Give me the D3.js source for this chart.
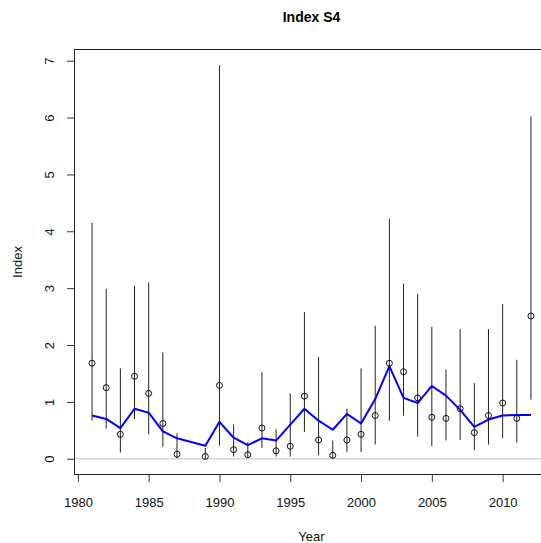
<!DOCTYPE html>
<html>
<head>
<meta charset="utf-8">
<script src="https://cdn.jsdelivr.net/npm/d3@7"></script>
<style>
html, body { margin: 0; padding: 0; background: #fff; }
svg { display: block; font-family: "Liberation Sans", Arial, Helvetica, sans-serif; }
</style>
</head>
<body>
<svg id="chart" width="541" height="543"></svg>
<script>
const years = [1981,1982,1983,1984,1985,1986,1987,1989,1990,1991,1992,1993,1994,1995,1996,1997,1998,1999,2000,2001,2002,2003,2004,2005,2006,2007,2008,2009,2010,2011,2012];
const observed = [1.68,1.25,0.43,1.45,1.15,0.62,0.08,0.04,1.29,0.16,0.07,0.54,0.14,0.22,1.10,0.33,0.06,0.33,0.43,0.76,1.68,1.53,1.07,0.73,0.71,0.88,0.46,0.76,0.98,0.71,2.51];
const upper = [4.15,2.99,1.59,3.04,3.10,1.87,0.45,0.19,6.92,0.60,0.29,1.52,0.52,1.15,2.58,1.79,0.32,0.88,1.59,2.34,4.22,3.08,2.90,2.32,1.57,2.28,1.33,2.28,2.72,1.74,6.02];
const lower = [0.67,0.53,0.11,0.70,0.43,0.21,0.01,0.00,0.23,0.04,0.02,0.19,0.04,0.04,0.47,0.06,0.00,0.12,0.12,0.25,0.67,0.76,0.39,0.22,0.32,0.33,0.15,0.25,0.36,0.28,1.04];
const fitted = [0.76,0.70,0.54,0.88,0.81,0.48,0.36,0.23,0.65,0.37,0.24,0.36,0.32,0.60,0.88,0.67,0.51,0.79,0.62,1.05,1.63,1.07,0.98,1.28,1.11,0.86,0.56,0.69,0.76,0.77,0.77];
const xTicks = [1980,1985,1990,1995,2000,2005,2010];
const yTicks = [0,1,2,3,4,5,6,7];
const title = "Index S4";
const xLabel = "Year";
const yLabel = "Index";

const svg = d3.select("#chart");
const L = 74.5, R = 548.5, T = 49.5, B = 474.5;

const xMin = d3.min(years), xMax = d3.max(years);
const xPad = (xMax - xMin) * 0.04;
const yMin = 0, yMax = d3.max(upper);
const yPad = (yMax - yMin) * 0.04;

const x = d3.scaleLinear().domain([xMin - xPad, xMax + xPad]).range([L, R]);
const y = d3.scaleLinear().domain([yMin - yPad, yMax + yPad]).range([B, T]);

const data = years.map((yr, i) => ({ yr, obs: observed[i], up: upper[i], lo: lower[i], fit: fitted[i] }));

// zero reference line
svg.append("line")
  .attr("x1", L).attr("x2", R)
  .attr("y1", y(0)).attr("y2", y(0))
  .attr("stroke", "#d6d6d6").attr("stroke-width", 1.5);

// error bars
svg.append("g").selectAll("line").data(data).enter().append("line")
  .attr("x1", d => x(d.yr)).attr("x2", d => x(d.yr))
  .attr("y1", d => y(d.up)).attr("y2", d => y(d.lo))
  .attr("stroke", "#222").attr("stroke-width", 1);

// fitted line
svg.append("path").datum(data)
  .attr("fill", "none").attr("stroke", "#0000ff").attr("stroke-width", 2)
  .attr("stroke-linejoin", "round")
  .attr("d", d3.line().x(d => x(d.yr)).y(d => y(d.fit)));

// observed points
svg.append("g").selectAll("circle").data(data).enter().append("circle")
  .attr("cx", d => x(d.yr)).attr("cy", d => y(d.obs)).attr("r", 3)
  .attr("fill", "none").attr("stroke", "#111").attr("stroke-width", 1);

// box
svg.append("rect")
  .attr("x", L).attr("y", T).attr("width", R - L).attr("height", B - T)
  .attr("fill", "none").attr("stroke", "#222").attr("stroke-width", 1);

// x axis
const xAxis = svg.append("g").attr("transform", `translate(0,${B})`)
  .call(d3.axisBottom(x).tickValues(xTicks).tickFormat(d3.format("d")).tickSize(7.5).tickPadding(0));
xAxis.select(".domain").remove();
xAxis.selectAll(".tick line").attr("stroke", "#333");
xAxis.selectAll(".tick text").remove();
xAxis.selectAll(".tick").append("text")
  .attr("y", 507 - B).attr("text-anchor", "middle")
  .attr("fill", "#111").attr("font-size", 13)
  .text(d => d);

// y axis
const yAxis = svg.append("g").attr("transform", `translate(${L},0)`)
  .call(d3.axisLeft(y).tickValues(yTicks).tickSize(7.5));
yAxis.select(".domain").remove();
yAxis.selectAll(".tick line").attr("stroke", "#333");
yAxis.selectAll(".tick text").remove();
yAxis.selectAll(".tick").append("text")
  .attr("transform", `translate(${54 - L},0) rotate(-90)`)
  .attr("text-anchor", "middle")
  .attr("fill", "#111").attr("font-size", 13)
  .text(d => d);
svg.append("line")
  .attr("x1", L).attr("x2", L).attr("y1", y(0)).attr("y2", y(7))
  .attr("stroke", "#222");

// title and labels
svg.append("text").attr("x", (L + R) / 2).attr("y", 22)
  .attr("text-anchor", "middle").attr("font-weight", "bold").attr("font-size", 14)
  .attr("fill", "#000").text(title);
svg.append("text").attr("x", (L + R) / 2).attr("y", 541)
  .attr("text-anchor", "middle").attr("font-size", 13).attr("fill", "#111").text(xLabel);
svg.append("text").attr("transform", `translate(22,${(T + B) / 2}) rotate(-90)`)
  .attr("text-anchor", "middle").attr("font-size", 13).attr("fill", "#111").text(yLabel);
</script>
</body>
</html>
